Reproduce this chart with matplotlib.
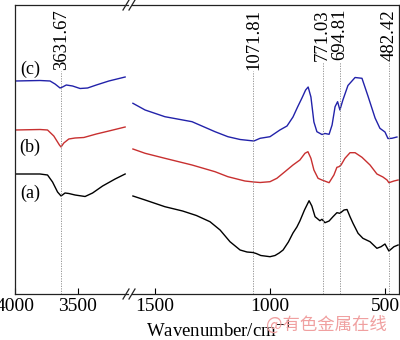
import matplotlib
matplotlib.use("Agg")
import matplotlib.pyplot as plt
from matplotlib.lines import Line2D

plt.rcParams['font.family'] = ['Liberation Serif', 'DejaVu Serif']
plt.rcParams['mathtext.fontset'] = 'stix'

# left segment (O-H region), wavenumber / cm-1 and transmittance (a.u.)
wl_a = [4000, 3800, 3740, 3700, 3660, 3632, 3600, 3570, 3520, 3440, 3380, 3300, 3200, 3120]
tl_a = [120, 120, 119, 112, 102, 98, 101, 100.5, 99, 97.5, 101, 108, 115, 120]
wl_b = [4000, 3800, 3740, 3690, 3645, 3632, 3610, 3570, 3520, 3450, 3350, 3250, 3120]
tl_b = [164, 164.5, 164, 158, 149, 147, 151, 155, 156, 156.5, 160, 163, 167]
wl_c = [4000, 3800, 3720, 3680, 3640, 3620, 3590, 3540, 3480, 3420, 3350, 3250, 3120]
tl_c = [213, 213.5, 213, 210, 206, 207, 209, 208, 205.5, 206, 209, 213, 217]

# right segment (fingerprint region)
wr_a = [1596, 1543, 1457, 1380, 1320, 1261, 1217, 1174, 1130, 1100, 1075, 1060, 1040, 1000,
        978, 960, 943, 920, 900, 883, 870, 850, 830, 818, 804, 783, 774, 761, 743, 726,
        709, 696, 678, 665, 652, 639, 617, 596, 565, 535, 517, 500, 483, 461, 443]
tr_a = [98, 94, 87.3, 83, 78.5, 72.3, 64, 52.3, 44, 42, 41.5, 40.5, 38.5, 37.3,
        38.5, 41, 44, 52, 61, 67, 73, 84, 93.3, 88, 77.3, 73.3, 74.7, 71.3, 73, 77.3,
        81.3, 80.7, 84, 84.5, 77.3, 70.7, 60.7, 55.7, 52.3, 45.7, 47.3, 50, 43, 47.3, 49]
wr_b = [1596, 1543, 1457, 1339, 1239, 1183, 1109, 1070, 1043, 1000, 970, 935, 900, 870,
        848, 835, 822, 809, 791, 774, 743, 722, 709, 700, 691, 674, 652, 630, 600, 565,
        535, 509, 491, 483, 461, 443]
tr_b = [145, 140.7, 135.7, 129, 122.3, 117.3, 113, 112, 111.5, 112.3, 115.7, 122.3, 129, 134,
        140.7, 142.3, 135.7, 124, 115.7, 114, 111.3, 119, 126.7, 127.3, 129, 135.7, 141.3, 141.3, 136.7, 129,
        120, 117, 114, 111.3, 113, 114]
wr_c = [1596, 1543, 1457, 1339, 1239, 1183, 1130, 1070, 1043, 1000, 957, 926, 900, 880,
        861, 845, 834, 822, 809, 796, 774, 761, 743, 730, 717, 706, 696, 683, 661, 630,
        600, 574, 543, 522, 500, 487, 470, 448]
tr_c = [190.7, 184, 177.3, 172.3, 162.3, 157.3, 154.5, 153, 155.7, 157.3, 164, 168, 177, 187,
        196, 204, 207, 197, 172, 162.3, 159.5, 160.5, 159.7, 169, 187.3, 192.3, 184, 194, 208.5, 216.5,
        215.7, 198, 176, 165.7, 162, 155.5, 155.7, 157]

curve_labels = ['(a)', '(b)', '(c)']
peaks = [3631.67, 1071.81, 771.03, 694.81, 482.42]
peak_labels = ['3631.67', '1071.81', '771.03', '694.81', '482.42']

fig = plt.figure(figsize=(4, 3.4), dpi=100)
ax1 = fig.add_axes([15 / 400, 46 / 340, 113 / 400, 289 / 340])
ax2 = fig.add_axes([132 / 400, 46 / 340, 267 / 400, 289 / 340])

colors = ['black', '#c83030', '#2222aa']
for ax, data in [(ax1, [(wl_a, tl_a), (wl_b, tl_b), (wl_c, tl_c)]),
                 (ax2, [(wr_a, tr_a), (wr_b, tr_b), (wr_c, tr_c)])]:
    for (w, t), c in zip(data, colors):
        ax.plot(w, t, color=c, lw=1.0)
    ax.set_ylim(0, 289)
    ax.set_yticks([])
    ax.tick_params(axis='x', direction='in', length=4, width=0.8, labelsize=14, pad=3)
    for s in ax.spines.values():
        s.set_linewidth(0.9)
        s.set_color('#222222')

ax1.set_xlim(4000, 3097)
ax1.set_xticks([4000, 3500])
ax1.spines['right'].set_visible(False)
ax2.set_xlim(1600, 439)
ax2.set_xticks([1500, 1000, 500])
ax2.spines['left'].set_visible(False)

for lab, y in zip(curve_labels, [101, 147, 225]):
    ax1.text(3879, y, lab, fontsize=13, ha='center', va='center')

fig.canvas.draw()
for p, lab in zip(peaks, peak_labels):
    ax = ax1 if p > 2000 else ax2
    t = ax.text(p, 285, lab, rotation=90, fontsize=13.5, ha='center', va='top')
    fig.canvas.draw()
    bb = t.get_window_extent()
    y0 = ax.transData.inverted().transform((0, bb.y0))[1]
    ax.plot([p, p], [0, y0 - 1], color='#888888', lw=0.6, ls=(0, (1.5, 1.5)))

# axis break marks
for yb in [46 / 340, 335 / 340]:
    for xb in [126 / 400, 132 / 400]:
        fig.add_artist(Line2D([xb - 3 / 400, xb + 3 / 400], [yb - 5 / 340, yb + 5 / 340],
                              color='#222222', lw=0.9))

fig.text(219 / 400, 4 / 340, 'Wavenumber/cm$^{-1}$', fontsize=13.5, ha='center', va='baseline')
fig.text(326 / 400, 15 / 340, '@有色金属在线', fontsize=12.5, color='#f0a0a0',
         family=['Noto Sans CJK SC', 'DejaVu Sans'], ha='center', va='center')

fig.savefig('out.png', dpi=100)
